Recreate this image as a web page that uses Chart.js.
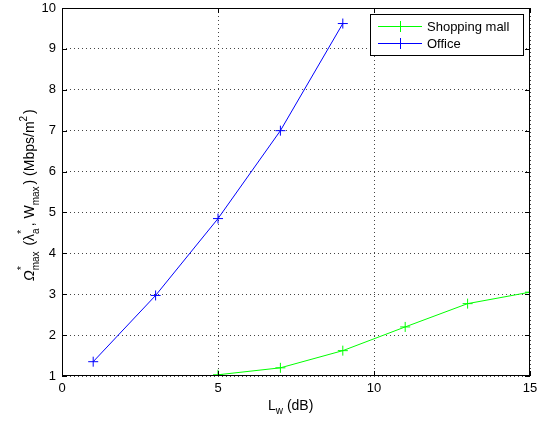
<!DOCTYPE html>
<html>
<head>
<meta charset="utf-8">
<script src="https://cdn.jsdelivr.net/npm/chart.js@4"></script>
<style>
  html, body { margin: 0; padding: 0; background: #fff; }
  #wrap { width: 537px; height: 424px; }
</style>
</head>
<body>
<div id="wrap"><canvas id="chart" width="537" height="424"></canvas></div>
<script>
const officeX = [1, 3, 5, 7, 9];
const officeY = [1.35, 2.97, 4.85, 7.0, 9.62];
const mallX = [5, 7, 9, 11, 13, 15];
const mallY = [1.03, 1.2, 1.62, 2.2, 2.77, 3.05];
const xTicks = [0, 5, 10, 15];
const yTicks = [1, 2, 3, 4, 5, 6, 7, 8, 9, 10];

const FONT = '"Liberation Sans", Arial, Helvetica, sans-serif';

// draws box, inward ticks, axis labels and legend in MATLAB style
const matlabFrame = {
  id: 'matlabFrame',
  afterDraw(chart) {
    const ctx = chart.ctx;
    const a = chart.chartArea;
    const xs = chart.scales.x, ys = chart.scales.y;
    ctx.save();
    ctx.strokeStyle = '#000';
    ctx.lineWidth = 1;
    ctx.strokeRect(a.left + 0.5, a.top + 0.5, a.right - a.left - 1, a.bottom - a.top - 1);
    ctx.beginPath();
    xTicks.forEach(t => {
      const px = Math.round(xs.getPixelForValue(t)) + 0.5;
      ctx.moveTo(px, a.bottom); ctx.lineTo(px, a.bottom - 5);
      ctx.moveTo(px, a.top); ctx.lineTo(px, a.top + 5);
    });
    yTicks.forEach(t => {
      const py = Math.round(ys.getPixelForValue(t)) + 0.5;
      ctx.moveTo(a.left, py); ctx.lineTo(a.left + 5, py);
      ctx.moveTo(a.right, py); ctx.lineTo(a.right - 5, py);
    });
    ctx.stroke();

    // x label: L_w (dB)
    ctx.fillStyle = '#000';
    ctx.textBaseline = 'alphabetic';
    let x = 268, y = 410;
    ctx.font = '14px ' + FONT;
    ctx.textAlign = 'left';
    ctx.fillText('L', x, y); x += ctx.measureText('L').width;
    ctx.font = '10px ' + FONT;
    ctx.fillText('w', x, y + 4); x += ctx.measureText('w').width;
    ctx.font = '14px ' + FONT;
    ctx.fillText(' (dB)', x, y);

    // y label, rotated
    ctx.save();
    ctx.translate(34, 281);
    ctx.rotate(-Math.PI / 2);
    const parts = [
      ['Ω', 14, 0], ['*', 11, -9, true], ['max', 10, 5],
      [' (λ', 14, 0], ['*', 11, -9, true], ['a', 10, 5],
      [', W', 14, 0], ['max', 10, 5], [') (Mbps/m', 14, 0], ['2', 10, -7], [')', 14, 0]
    ];
    let cx = 0;
    parts.forEach(p => {
      ctx.font = (p[0] === 'Ω' ? 'italic ' : '') + p[1] + 'px ' + FONT;
      ctx.fillText(p[0], cx, p[2]);
      if (!p[3]) cx += ctx.measureText(p[0]).width + (p[1] === 10 ? 2 : 0);
    });
    ctx.restore();

    // legend
    const lx = 370, ly = 14, lw = 153, lh = 41;
    ctx.fillStyle = '#fff';
    ctx.fillRect(lx, ly, lw, lh);
    ctx.strokeStyle = '#000';
    ctx.strokeRect(lx + 0.5, ly + 0.5, lw, lh);
    const items = [['Shopping mall', '#00ff00', 26], ['Office', '#0000ff', 43]];
    items.forEach(it => {
      ctx.strokeStyle = it[1];
      ctx.beginPath();
      ctx.moveTo(378, it[2] + 0.5); ctx.lineTo(422, it[2] + 0.5);
      ctx.moveTo(400.5, it[2] - 5); ctx.lineTo(400.5, it[2] + 6);
      ctx.stroke();
      ctx.fillStyle = '#000';
      ctx.font = '13px ' + FONT;
      ctx.textBaseline = 'middle';
      ctx.fillText(it[0], 427, it[2] + 1);
    });
    ctx.restore();
  }
};

const config = {
  type: 'line',
  data: {
    datasets: [
      {
        label: 'Shopping mall',
        data: mallX.map((x, i) => ({x: x, y: mallY[i]})),
        borderColor: '#00ff00',
        backgroundColor: '#00ff00',
        borderWidth: 1,
        pointStyle: 'cross',
        pointRadius: 5,
        pointBorderWidth: 1,
        tension: 0
      },
      {
        label: 'Office',
        data: officeX.map((x, i) => ({x: x, y: officeY[i]})),
        borderColor: '#0000ff',
        backgroundColor: '#0000ff',
        borderWidth: 1,
        pointStyle: 'cross',
        pointRadius: 5,
        pointBorderWidth: 1,
        tension: 0
      }
    ]
  },
  options: {
    responsive: false,
    animation: false,
    layout: { padding: { left: 0, right: 7, top: 8, bottom: 0 } },
    plugins: { legend: { display: false }, tooltip: { enabled: false } },
    scales: {
      x: {
        type: 'linear',
        min: 0, max: 15,
        afterBuildTicks: s => { s.ticks = xTicks.map(v => ({value: v})); },
        afterFit: s => { s.height = 48; s.paddingLeft = 0; s.paddingRight = 0; },
        grid: { color: '#444', lineWidth: 1, drawTicks: false },
        border: { display: false, dash: [1, 3] },
        ticks: { color: '#000', font: { family: FONT, size: 13 }, padding: 5, maxRotation: 0 }
      },
      y: {
        type: 'linear',
        min: 1, max: 10,
        afterBuildTicks: s => { s.ticks = yTicks.map(v => ({value: v})); },
        afterFit: s => { s.width = 62; s.paddingTop = 0; s.paddingBottom = 0; },
        grid: { color: '#444', lineWidth: 1, drawTicks: false },
        border: { display: false, dash: [1, 3] },
        ticks: { color: '#000', font: { family: FONT, size: 13 }, padding: 6 }
      }
    }
  },
  plugins: [matlabFrame]
};

new Chart(document.getElementById('chart'), config);
</script>
</body>
</html>
